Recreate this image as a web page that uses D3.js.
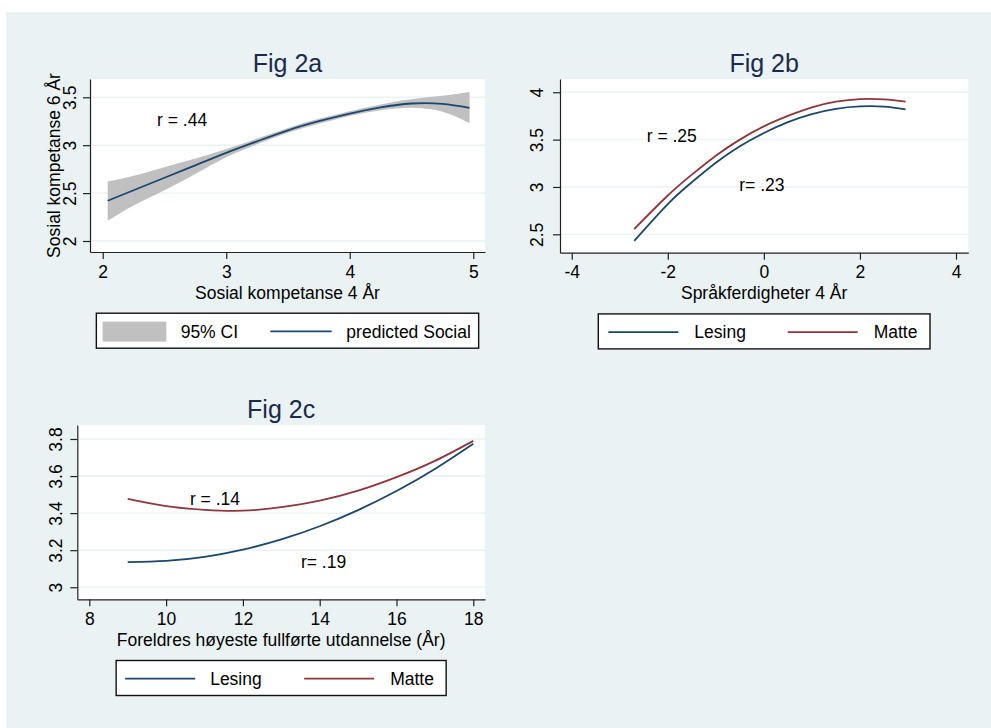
<!DOCTYPE html>
<html>
<head>
<meta charset="utf-8">
<script src="https://cdn.jsdelivr.net/npm/d3@7"></script>
<style>
  body { margin: 0; background: #fff; }
  svg { display: block; }
</style>
</head>
<body>
<svg id="chart" width="991" height="728"></svg>
<script>
// Fig 2a: predicted social competence (6 yrs) from social competence (4 yrs), with 95% CI
const fig2aX   = [2.04, 2.25, 2.5, 2.75, 3.0, 3.25, 3.5, 3.75, 4.0, 4.25, 4.5, 4.75, 4.97];
const fig2aFit = [2.42, 2.53, 2.66, 2.79, 2.92, 3.04, 3.155, 3.25, 3.33, 3.395, 3.435, 3.432, 3.39];
const fig2aLo  = [2.21, 2.37, 2.53, 2.70, 2.875, 3.01, 3.13, 3.225, 3.305, 3.365, 3.39, 3.35, 3.23];
const fig2aHi  = [2.62, 2.68, 2.77, 2.86, 2.96, 3.07, 3.18, 3.275, 3.355, 3.425, 3.48, 3.515, 3.555];
const fig2aXTicks = [2, 3, 4, 5];
const fig2aYTicks = [2, 2.5, 3, 3.5];

// Fig 2b: reading / maths from language skills (4 yrs)
const fig2bX      = [-2.7, -2, -1.5, -1, -0.5, 0, 0.5, 1, 1.5, 2, 2.5, 2.95];
const fig2bLesing = [2.43, 2.82, 3.05, 3.255, 3.43, 3.57, 3.685, 3.77, 3.825, 3.85, 3.848, 3.82];
const fig2bMatte  = [2.555, 2.91, 3.13, 3.33, 3.50, 3.64, 3.75, 3.84, 3.90, 3.928, 3.925, 3.90];
const fig2bXTicks = [-4, -2, 0, 2, 4];
const fig2bYTicks = [2.5, 3, 3.5, 4];

// Fig 2c: reading / maths from parents' highest education (years)
const fig2cX      = [9, 10, 11, 12, 13, 14, 15, 16, 17, 18];
const fig2cLesing = [3.136, 3.142, 3.164, 3.203, 3.258, 3.329, 3.416, 3.519, 3.638, 3.774];
const fig2cMatte  = [3.477, 3.438, 3.418, 3.413, 3.432, 3.467, 3.521, 3.594, 3.682, 3.79];
const fig2cXTicks = [8, 10, 12, 14, 16, 18];
const fig2cYTicks = [3, 3.2, 3.4, 3.6, 3.8];

const FONT = "'Liberation Sans', Arial, Helvetica, sans-serif";
const NAVY = "#1a476f";
const MAROON = "#90353b";
const BG = "#eaf2f3";

const svg = d3.select("#chart");

svg.append("rect")
    .attr("x", 6).attr("y", 12)
    .attr("width", 985).attr("height", 716)
    .attr("fill", BG);

function drawPanel(p) {
    const x = d3.scaleLinear().domain(p.xDomain).range([p.left, p.right]);
    const y = d3.scaleLinear().domain(p.yDomain).range([p.bottom, p.top]);
    const g = svg.append("g");

    // plot region
    g.append("rect")
        .attr("x", p.left).attr("y", p.top)
        .attr("width", p.right - p.left).attr("height", p.bottom - p.top)
        .attr("fill", "#fff");

    // grid
    g.selectAll(".grid")
        .data(p.yTicks)
        .join("line")
        .attr("x1", p.left).attr("x2", p.right)
        .attr("y1", d => y(d)).attr("y2", d => y(d))
        .attr("stroke", BG).attr("stroke-width", 1.4);

    // CI band
    if (p.band) {
        const area = d3.area()
            .x((d, i) => x(p.xs[i]))
            .y0((d, i) => y(p.band.lo[i]))
            .y1((d, i) => y(p.band.hi[i]))
            .curve(d3.curveNatural);
        g.append("path")
            .attr("d", area(p.xs))
            .attr("fill", "#c0c0c0");
    }

    // lines
    p.series.forEach(s => {
        const line = d3.line()
            .x((d, i) => x(p.xs[i]))
            .y(d => y(d))
            .curve(d3.curveNatural);
        g.append("path")
            .attr("d", line(s.values))
            .attr("fill", "none")
            .attr("stroke", s.color)
            .attr("stroke-width", 1.8);
    });

    // axes
    const ax = g.append("g")
        .attr("transform", `translate(0,${p.bottom})`)
        .call(d3.axisBottom(x).tickValues(p.xTicks).tickSize(7).tickSizeOuter(0).tickFormat(d => String(d)));
    ax.selectAll("text")
        .attr("y", 25.5).attr("dy", 0)
        .attr("fill", "#000");

    const ay = g.append("g")
        .attr("transform", `translate(${p.left},0)`)
        .call(d3.axisLeft(y).tickValues(p.yTicks).tickSize(7).tickSizeOuter(0).tickFormat(d => String(d)));
    ay.selectAll("text")
        .attr("transform", "rotate(-90)")
        .attr("x", 0).attr("y", -p.yLabelGap).attr("dy", 0)
        .attr("text-anchor", "middle")
        .attr("fill", "#000");

    [ax, ay].forEach(a => {
        a.selectAll("text").style("font-family", FONT).style("font-size", "17.5px");
        a.selectAll("line, path").attr("stroke", "#222").attr("stroke-width", 1.2);
    });

    // title
    g.append("text")
        .attr("x", (p.left + p.right) / 2).attr("y", p.top - 7)
        .attr("text-anchor", "middle")
        .style("font-family", FONT).style("font-size", "25px")
        .attr("fill", "#1a2a4e")
        .text(p.title);

    // x axis title
    g.append("text")
        .attr("x", (p.left + p.right) / 2).attr("y", p.bottom + 46.7)
        .attr("text-anchor", "middle")
        .style("font-family", FONT).style("font-size", "17.5px")
        .text(p.xTitle);

    if (p.yTitle) {
        g.append("text")
            .attr("transform", `translate(${p.left - 30},${(p.top + p.bottom) / 2}) rotate(-90)`)
            .attr("text-anchor", "middle")
            .style("font-family", FONT).style("font-size", "17.5px")
            .text(p.yTitle);
    }

    // r annotations
    p.notes.forEach(n => {
        g.append("text")
            .attr("x", x(n.x)).attr("y", y(n.y))
            .style("font-family", FONT).style("font-size", "17.5px")
            .text(n.text);
    });

    // legend
    const L = p.legend;
    const lx = (p.left + p.right) / 2 - L.width / 2;
    const ly = p.bottom + 61.2;
    const lg = g.append("g").attr("transform", `translate(${lx},${ly})`);
    lg.append("rect")
        .attr("width", L.width).attr("height", 35)
        .attr("fill", "#fff").attr("stroke", "#111").attr("stroke-width", 1.4);
    L.items.forEach(it => {
        if (it.type === "area") {
            lg.append("rect")
                .attr("x", it.key).attr("y", 8.4)
                .attr("width", it.keyW).attr("height", 20)
                .attr("fill", "#c0c0c0");
        } else {
            lg.append("line")
                .attr("x1", it.key).attr("x2", it.key + it.keyW)
                .attr("y1", 18.2).attr("y2", 18.2)
                .attr("stroke", it.color).attr("stroke-width", 1.8);
        }
        lg.append("text")
            .attr("x", it.label).attr("y", 24.5)
            .style("font-family", FONT).style("font-size", "17.5px")
            .text(it.text);
    });
}

drawPanel({
    title: "Fig 2a",
    xTitle: "Sosial kompetanse 4 År",
    yTitle: "Sosial kompetanse 6 År",
    left: 90, right: 485, top: 79, bottom: 252,
    xDomain: [1.897, 5.095], yDomain: [1.885, 3.691],
    xTicks: fig2aXTicks, yTicks: fig2aYTicks, yLabelGap: 14,
    xs: fig2aX,
    band: { lo: fig2aLo, hi: fig2aHi },
    series: [{ values: fig2aFit, color: NAVY }],
    notes: [{ x: 2.44, y: 3.20, text: "r = .44" }],
    legend: {
        width: 382.3,
        items: [
            { type: "area", key: 6.3, keyW: 63.7, label: 84.3, text: "95% CI" },
            { type: "line", key: 174, keyW: 61.3, label: 250, text: "predicted Social", color: NAVY }
        ]
    }
});

drawPanel({
    title: "Fig 2b",
    xTitle: "Språkferdigheter 4 År",
    left: 560, right: 968.3, top: 79, bottom: 252.7,
    xDomain: [-4.244, 4.256], yDomain: [2.306, 4.140],
    xTicks: fig2bXTicks, yTicks: fig2bYTicks, yLabelGap: 17,
    xs: fig2bX,
    series: [
        { values: fig2bLesing, color: NAVY },
        { values: fig2bMatte, color: MAROON }
    ],
    notes: [
        { x: -2.439, y: 3.478, text: "r = .25" },
        { x: -0.512, y: 2.961, text: "r= .23" }
    ],
    legend: {
        width: 331.7,
        items: [
            { type: "line", key: 10, keyW: 70, label: 96, text: "Lesing", color: NAVY },
            { type: "line", key: 189.4, keyW: 70, label: 275.4, text: "Matte", color: MAROON }
        ]
    }
});

drawPanel({
    title: "Fig 2c",
    xTitle: "Foreldres høyeste fullførte utdannelse (År)",
    left: 77.3, right: 485, top: 425, bottom: 599.3,
    xDomain: [7.6875, 18.305], yDomain: [2.935, 3.8755],
    xTicks: fig2cXTicks, yTicks: fig2cYTicks, yLabelGap: 15.5,
    xs: fig2cX,
    series: [
        { values: fig2cLesing, color: NAVY },
        { values: fig2cMatte, color: MAROON }
    ],
    notes: [
        { x: 10.62, y: 3.444, text: "r = .14" },
        { x: 13.51, y: 3.102, text: "r= .19" }
    ],
    legend: {
        width: 330,
        items: [
            { type: "line", key: 9, keyW: 70, label: 94, text: "Lesing", color: NAVY },
            { type: "line", key: 188, keyW: 70, label: 274, text: "Matte", color: MAROON }
        ]
    }
});
</script>
</body>
</html>
